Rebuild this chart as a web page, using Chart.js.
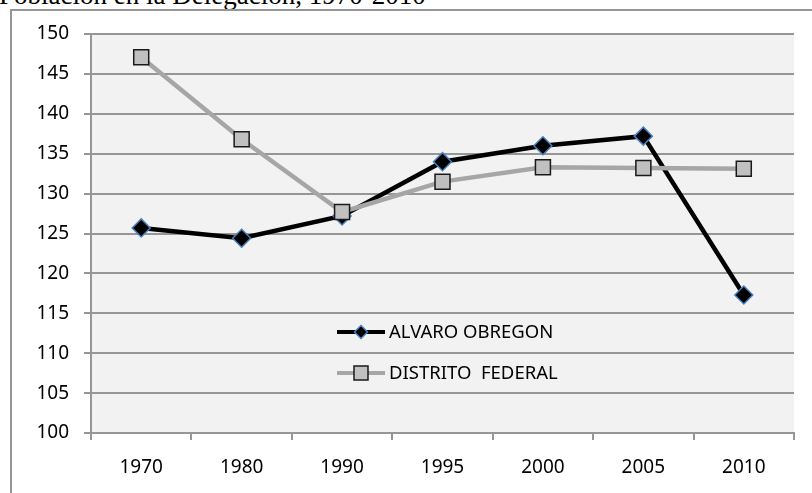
<!DOCTYPE html>
<html>
<head>
<meta charset="utf-8">
<script src="https://cdn.jsdelivr.net/npm/chart.js@4/dist/chart.umd.min.js"></script>
<style>
  html,body{margin:0;padding:0;background:#fff;overflow:hidden}
  #wrap{position:relative;width:812px;height:493px}
  #ttl{position:absolute;left:-1px;top:-20px;font-family:"Liberation Serif","Times New Roman",serif;font-size:27px;color:#000;white-space:nowrap}
  #box{position:absolute;left:10px;top:9px;width:830px;height:520px;border:2px solid #969696;box-sizing:border-box}
  #c{position:absolute;left:0;top:0}
</style>
</head>
<body>
<div id="wrap">
  <div id="ttl">Población en la Delegación, 1970-2010</div>
  <div id="box"></div>
  <canvas id="c" width="812" height="493"></canvas>
</div>
<script>
// ---- data ----
const YEARS=['1970','1980','1990','1995','2000','2005','2010'];
const ALVARO=[125.7,124.4,127.2,134.0,136.0,137.2,117.3];
const DF=[147.1,136.8,127.7,131.5,133.3,133.2,133.1];
const SERIES_NAMES=['ALVARO OBREGON','DISTRITO  FEDERAL'];
const Y_MIN=100,Y_MAX=150,Y_STEP=5;

const FONT='"Noto Sans", "Liberation Sans", Arial, sans-serif';
const GRID='#969696';

// plot area fill
const plotBg={id:'plotBg',beforeDraw(ch){
  const a=ch.chartArea,ctx=ch.ctx;
  ctx.save();ctx.fillStyle='#f2f2f2';ctx.fillRect(a.left,a.top,a.right-a.left,a.bottom-a.top);ctx.restore();
}};

// legend drawn inside the plot area, Excel style
function mark(ctx,style,x,y,r,fill,stroke){
  ctx.save();ctx.beginPath();
  if(style==='rectRot'){ctx.moveTo(x,y-r);ctx.lineTo(x+r,y);ctx.lineTo(x,y+r);ctx.lineTo(x-r,y);ctx.closePath();}
  else{ctx.rect(x-r,y-r,2*r,2*r);}
  ctx.fillStyle=fill;ctx.fill();ctx.lineWidth=1.5;ctx.strokeStyle=stroke;ctx.stroke();ctx.restore();
}
const inLegend={id:'inLegend',afterDraw(ch){
  const a=ch.chartArea,ctx=ch.ctx;
  const x0=a.left+246,x1=a.left+294,tx=a.left+298;
  const ys=[a.top+298,a.top+339];
  ch.data.datasets.forEach((ds,i)=>{
    const y=ys[i];
    ctx.save();
    ctx.strokeStyle=ds.borderColor;ctx.lineWidth=4;ctx.beginPath();ctx.moveTo(x0,y);ctx.lineTo(x1,y);ctx.stroke();
    if(ds.pointStyle==='rectRot')mark(ctx,'rectRot',(x0+x1)/2,y,6.5,ds.pointBackgroundColor,ds.pointBorderColor);
    else mark(ctx,'rect',(x0+x1)/2,y,7,ds.pointBackgroundColor,ds.pointBorderColor);
    ctx.fillStyle='#000';ctx.font='18.5px '+FONT;ctx.textBaseline='middle';ctx.textAlign='left';
    ctx.fillText(ds.label,tx,y+1);
    ctx.restore();
  });
}};

new Chart(document.getElementById('c'),{
  type:'line',
  data:{labels:YEARS,datasets:[
    {label:SERIES_NAMES[0],data:ALVARO,borderColor:'#000',borderWidth:4.5,tension:0,
     pointStyle:'rectRot',pointRadius:9,pointHoverRadius:9,pointBackgroundColor:'#000',pointBorderColor:'#4a7ebb',pointBorderWidth:1.5,order:1},
    {label:SERIES_NAMES[1],data:DF,borderColor:'#a6a6a6',borderWidth:4.5,tension:0,
     pointStyle:'rect',pointRadius:10.6,pointHoverRadius:10.6,pointBackgroundColor:'#c0c0c0',pointBorderColor:'#1a1a1a',pointBorderWidth:1.5,order:0}
  ]},
  options:{
    responsive:false,animation:false,
    layout:{padding:{left:0,top:34,right:18,bottom:0}},
    plugins:{legend:{display:false},tooltip:{enabled:false},title:{display:false}},
    scales:{
      x:{offset:true,
        grid:{offset:true,drawOnChartArea:false,drawTicks:true,tickLength:7,color:GRID,lineWidth:2},
        border:{color:GRID,width:2},
        ticks:{color:'#000',font:{family:FONT,size:19},padding:16,maxRotation:0},
        afterFit(s){s.height=60;}},
      y:{min:Y_MIN,max:Y_MAX,
        grid:{color:GRID,lineWidth:2,tickLength:7},
        border:{color:GRID,width:2},
        ticks:{stepSize:Y_STEP,color:'#000',font:{family:FONT,size:19},padding:15},
        afterFit(s){s.width=91;}}
    }
  },
  plugins:[plotBg,inLegend]
});
</script>
</body>
</html>
